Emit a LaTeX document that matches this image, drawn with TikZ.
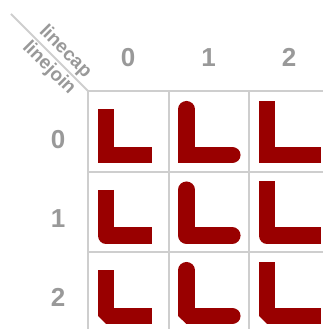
\documentclass[tikz,border=0pt]{standalone}
\usepackage{fontspec}
\setmainfont{Liberation Sans}
\definecolor{gridgray}{RGB}{206,206,206}
\definecolor{labelgray}{RGB}{153,153,153}
\definecolor{lred}{RGB}{153,0,0}
\begin{document}
\begin{tikzpicture}[x=1pt,y=-1pt,
  gridline/.style={draw=gridgray,line width=2pt},
  head/.style={text=labelgray,font=\bfseries\fontsize{26}{26}\selectfont,inner sep=0pt},
  axislabel/.style={text=labelgray,font=\bfseries\fontsize{19}{19}\selectfont,rotate=-45,inner sep=2.5pt},
  lpath/.style={draw=lred,line width=16.7pt}]
\useasboundingbox (0,0) rectangle (323,329);
% grid
\draw[gridline] (11,14) -- (88,91);
\coordinate (diagmid) at (57,60);
\foreach \gy in {91,171.5,252} \draw[gridline] (88,\gy) -- (323,\gy);
\foreach \gx in {88,168.5,249} \draw[gridline] (\gx,91) -- (\gx,329);
% axis labels
\node[axislabel,anchor=south] (capl) at (diagmid) {linecap};
\node[axislabel,anchor=north] (joinl) at (diagmid) {linejoin};
% column headers
\node[head] (c0) at (128,57.5) {0};
\node[head] (c1) at (208.5,57.5) {1};
\node[head] (c2) at (289,57.5) {2};
% row headers
\node[head] (r0) at (58,140) {0};
\node[head] (r1) at (58,219) {1};
\node[head] (r2) at (58,297.5) {2};
% L shapes
\foreach \c/\cap in {0/butt,1/round,2/rect}{
  \foreach \r/\join in {0/miter,1/round,2/bevel}{
    \pgfmathsetmacro{\gx}{88+80.5*\c}
    \pgfmathsetmacro{\gy}{91+80.5*\r}
    \draw[lpath,line cap=\cap,line join=\join]
      (\gx+18,\gy+18.3) -- (\gx+18,\gy+64) -- (\gx+63.7,\gy+64);
  }
}
\end{tikzpicture}
\end{document}
